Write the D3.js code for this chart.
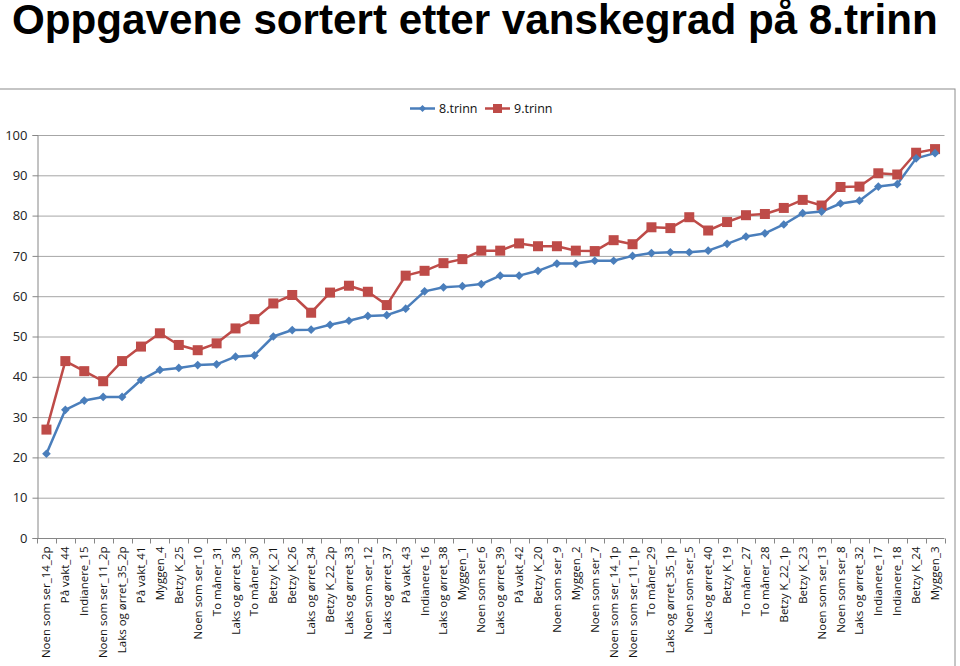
<!DOCTYPE html>
<html>
<head>
<meta charset="utf-8">
<script src="https://cdn.jsdelivr.net/npm/d3@7"></script>
<style>
  html, body { margin: 0; padding: 0; background: #fff; }
  svg { display: block; }
</style>
</head>
<body>
<svg id="chart" width="960" height="666"></svg>
<script>
const categories = [
  "Noen som ser_14_2p", "På vakt_44", "Indianere_15", "Noen som ser_11_2p",
  "Laks og ørret_35_2p", "På vakt_41", "Myggen_4", "Betzy K_25",
  "Noen som ser_10", "To måner_31", "Laks og ørret_36", "To måner_30",
  "Betzy K_21", "Betzy K_26", "Laks og ørret_34", "Betzy K_22_2p",
  "Laks og ørret_33", "Noen som ser_12", "Laks og ørret_37", "På vakt_43",
  "Indianere_16", "Laks og ørret_38", "Myggen_1", "Noen som ser_6",
  "Laks og ørret_39", "På vakt_42", "Betzy K_20", "Noen som ser_9",
  "Myggen_2", "Noen som ser_7", "Noen som ser_14_1p", "Noen som ser_11_1p",
  "To måner_29", "Laks og ørret_35_1p", "Noen som ser_5", "Laks og ørret_40",
  "Betzy K_19", "To måner_27", "To måner_28", "Betzy K_22_1p",
  "Betzy K_23", "Noen som ser_13", "Noen som ser_8", "Laks og ørret_32",
  "Indianere_17", "Indianere_18", "Betzy K_24", "Myggen_3"
];
const trinn8 = [
  20.9, 31.8, 34.1, 35.0, 35.0, 39.2, 41.7, 42.2, 42.9, 43.1, 45.0, 45.3,
  50.0, 51.6, 51.7, 52.9, 53.9, 55.1, 55.3, 56.9, 61.2, 62.2, 62.5, 63.0,
  65.1, 65.1, 66.3, 68.1, 68.1, 68.8, 68.8, 70.0, 70.7, 70.9, 70.9, 71.3,
  73.0, 74.8, 75.6, 77.8, 80.6, 81.0, 83.0, 83.7, 87.2, 87.8, 94.2, 95.5
];
const trinn9 = [
  26.9, 43.9, 41.4, 38.9, 43.9, 47.5, 50.8, 47.9, 46.6, 48.3, 52.0, 54.3,
  58.2, 60.3, 55.9, 60.9, 62.6, 61.1, 57.8, 65.1, 66.3, 68.2, 69.2, 71.3,
  71.3, 73.1, 72.4, 72.4, 71.3, 71.2, 73.9, 72.9, 77.1, 76.9, 79.6, 76.3,
  78.4, 80.1, 80.4, 81.9, 83.9, 82.5, 87.1, 87.2, 90.5, 90.2, 95.6, 96.5
];
const seriesNames = ["8.trinn", "9.trinn"];
const yTicks = [0, 10, 20, 30, 40, 50, 60, 70, 80, 90, 100];
const titleText = "Oppgavene sortert etter vanskegrad på 8.trinn";

const svg = d3.select("#chart");
const plot = { left: 37, right: 944.5, top: 135, bottom: 538 };
const blue = "#4A7EBB", red = "#BE4B48";
const axisGray = "#868686";

// Title
const title = svg.append("text")
  .attr("x", 12).attr("y", 34)
  .attr("font-family", "'Liberation Sans', Arial, sans-serif")
  .attr("font-weight", "bold")
  .attr("font-size", 40)
  .attr("fill", "#000")
  .text(titleText);
const tw = title.node().getComputedTextLength();
title.attr("font-size", 40 * (926 / tw));

// Chart frame
svg.append("rect")
  .attr("x", -1).attr("y", 89).attr("width", 956).attr("height", 600)
  .attr("fill", "none").attr("stroke", "#8c8c8c").attr("stroke-width", 1);

const x = d3.scaleBand().domain(categories).range([plot.left, plot.right]);
const y = d3.scaleLinear().domain([0, 100]).range([plot.bottom, plot.top]);

// Gridlines
svg.append("g").selectAll("line").data(yTicks.filter(d => d > 0)).join("line")
  .attr("x1", plot.left).attr("x2", plot.right)
  .attr("y1", d => y(d) + 0.5).attr("y2", d => y(d) + 0.5)
  .attr("stroke", "#a6a6a6").attr("stroke-width", 1);

// Y axis
const yAxis = svg.append("g")
  .attr("transform", `translate(${plot.left + 0.5},0)`)
  .call(d3.axisLeft(y).tickValues(yTicks).tickSize(5).tickPadding(5).tickFormat(d3.format("d")));
yAxis.select(".domain").attr("stroke", axisGray);
yAxis.selectAll(".tick line").attr("stroke", axisGray);
yAxis.selectAll("text")
  .attr("font-family", "'Open Sans', 'Noto Sans', sans-serif")
  .attr("font-size", 13).attr("fill", "#222");

// X axis (ticks between categories)
const xg = svg.append("g").attr("transform", `translate(0,${plot.bottom + 0.5})`);
xg.append("line").attr("x1", plot.left).attr("x2", plot.right)
  .attr("stroke", axisGray);
const bounds = categories.map(c => x(c)).concat([plot.right]);
xg.selectAll("line.tk").data(bounds).join("line").attr("class", "tk")
  .attr("x1", d => Math.round(d) + 0.5).attr("x2", d => Math.round(d) + 0.5)
  .attr("y1", 0).attr("y2", 5).attr("stroke", axisGray);
xg.selectAll("text").data(categories).join("text")
  .attr("transform", d => `translate(${x(d) + x.bandwidth() / 2 + 4},8) rotate(-90)`)
  .attr("text-anchor", "end")
  .attr("font-family", "'Open Sans', 'Noto Sans', sans-serif")
  .attr("font-size", 11.5)
  .attr("fill", "#111")
  .text(d => d);

const cx = (d, i) => x(categories[i]) + x.bandwidth() / 2;
const line = d3.line().x((d, i) => cx(d, i)).y(d => y(d));

// Series
svg.append("path").datum(trinn9).attr("d", line)
  .attr("fill", "none").attr("stroke", red).attr("stroke-width", 2.5)
  .attr("stroke-linejoin", "round");
svg.append("path").datum(trinn8).attr("d", line)
  .attr("fill", "none").attr("stroke", blue).attr("stroke-width", 2.5)
  .attr("stroke-linejoin", "round");

svg.append("g").selectAll("rect").data(trinn9).join("rect")
  .attr("x", (d, i) => cx(d, i) - 5).attr("y", d => y(d) - 5)
  .attr("width", 10).attr("height", 10).attr("fill", red);

const diamond = d3.symbol().type(d3.symbolDiamond2).size(48);
svg.append("g").selectAll("path").data(trinn8).join("path")
  .attr("transform", (d, i) => `translate(${cx(d, i)},${y(d)})`)
  .attr("d", diamond).attr("fill", blue);

// Legend
const lg = svg.append("g").attr("font-family", "'Open Sans', 'Noto Sans', sans-serif")
  .attr("font-size", 12.5).attr("fill", "#111");
const legendItems = [
  { name: seriesNames[0], color: blue, x0: 410 },
  { name: seriesNames[1], color: red, x0: 485 }
];
legendItems.forEach((it, k) => {
  const ly = 108.5;
  lg.append("line").attr("x1", it.x0).attr("x2", it.x0 + 25)
    .attr("y1", ly).attr("y2", ly).attr("stroke", it.color).attr("stroke-width", 2.5);
  if (k === 0) {
    lg.append("path").attr("transform", `translate(${it.x0 + 12.5},${ly})`)
      .attr("d", d3.symbol().type(d3.symbolDiamond2).size(32)).attr("fill", it.color);
  } else {
    lg.append("rect").attr("x", it.x0 + 8).attr("y", ly - 4.5)
      .attr("width", 9).attr("height", 9).attr("fill", it.color);
  }
  lg.append("text").attr("x", it.x0 + 29).attr("y", ly + 4.5).text(it.name);
});
</script>
</body>
</html>
